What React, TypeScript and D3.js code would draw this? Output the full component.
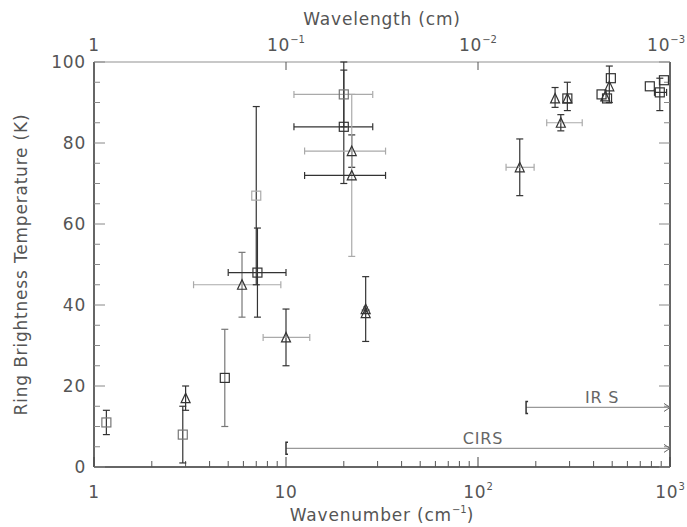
import React from "react";
import * as d3 from "d3";

// measurements: wavenumber (cm^-1), ring brightness temperature (K)
const wavenumber = [1.16, 2.9, 3.0, 4.8, 5.9, 7.0, 7.1, 10, 20, 20, 22, 22, 26, 26, 165, 252, 270, 292, 292, 440, 460, 470, 483, 492, 785, 885, 930];
const temperature = [11, 8, 17, 22, 45, 67, 48, 32, 92, 84, 78, 72, 39, 38, 74, 91, 85, 91, 91, 92, 91.5, 91, 94, 96, 94, 92.5, 95.5];
const tempLow = [8, 1, 14, 10, 37, 45, 37, 25, 84, 70, 74, 52, 31, null, 67, 88.8, 83, 88, null, null, null, null, 90, null, null, 88, null];
const tempHigh = [14, 15, 20, 34, 53, 89, 59, 39, 100, 98, 82, 92, 47, null, 81, 93.7, 87, 95, null, null, null, null, 99, null, null, 96, null];
const waveLow = [null, null, null, null, 3.3, null, 5.0, 7.6, 11, 11, 12.5, 12.5, null, null, 140, null, 228, null, null, null, null, null, null, null, null, 830, null];
const waveHigh = [null, null, null, null, 9.4, null, 10, 13.3, 28.3, 28.3, 33, 33, null, null, 196, null, 349, null, null, null, null, null, null, null, null, 960, null];
const symbol = ["sq", "sq", "tri", "sq", "tri", "sq", "sq", "tri", "sq", "sq", "tri", "tri", "tri", "tri", "tri", "tri", "tri", "sq", "tri", "sq", "tri", "sq", "tri", "sq", "sq", "sq", "sq"];
const markTone = ["mid", "mid", "dark", "dark", "dark", "light", "dark", "dark", "mid", "dark", "dark", "dark", "dark", "dark", "dark", "dark", "dark", "dark", "dark", "dark", "dark", "dark", "dark", "dark", "dark", "dark", "dark"];
const yBarTone = ["dark", "dark", "dark", "mid", "mid", "dark", "dark", "dark", "dark", "dark", "dark", "light", "dark", "dark", "dark", "dark", "dark", "dark", "dark", "dark", "dark", "dark", "dark", "dark", "dark", "dark", "dark"];
const xBarTone = ["dark", "dark", "dark", "dark", "light", "dark", "dark", "light", "light", "dark", "light", "dark", "dark", "dark", "light", "dark", "light", "dark", "dark", "dark", "dark", "dark", "dark", "dark", "dark", "dark", "dark"];

// instrument coverage
const instruments = ["CIRS", "IR S"];
const instStart = [10, 178];
const instEnd = [1000, 1000];
const instLevel = [4.6, 14.7];

const xMajor = [1, 10, 100, 1000];
const bottomBase = ["1", "10", "10", "10"];
const bottomExp = ["", "", "2", "3"];
const topBase = ["1", "10", "10", "10"];
const topExp = ["", "\u22121", "\u22122", "\u22123"];
const yTicks = [0, 20, 40, 60, 80, 100];

const tones: Record<string, string> = { dark: "#333", mid: "#777", light: "#aaa" };
const font = "'DejaVu Sans', sans-serif";
const textColor = "#555";
const spacing = 0.8;

export default function App() {
  const left = 94, right = 670, top = 62, bottom = 467;
  const x = d3.scaleLog().domain([1, 1000]).range([left, right]);
  const y = d3.scaleLinear().domain([0, 100]).range([bottom, top]);

  const minorX: number[] = [];
  for (let d = 1; d < 1000; d *= 10) for (let k = 2; k <= 9; k++) minorX.push(d * k);
  const minorY = d3.range(5, 100, 5).filter((v) => v % 20 !== 0);

  const cap = 3.5;
  const ms = 4.5;

  const marker = (i: number) => {
    const cx = x(wavenumber[i]);
    const cy = y(temperature[i]);
    const stroke = tones[markTone[i]];
    if (symbol[i] === "sq")
      return <rect key={"m" + i} x={cx - ms} y={cy - ms} width={ms * 2} height={ms * 2} fill="none" stroke={stroke} strokeWidth={1.2} />;
    const pts = [[cx, cy - ms - 0.5], [cx - ms, cy + ms], [cx + ms, cy + ms]].map((p) => p.join(",")).join(" ");
    return <polygon key={"m" + i} points={pts} fill="none" stroke={stroke} strokeWidth={1.2} />;
  };

  return (
    <svg width={687} height={527} style={{ position: "absolute", left: 0, top: 0, background: "#fff" }} fontFamily={font} letterSpacing={spacing}>
      {/* frame */}
      <line x1={left} x2={right} y1={top} y2={top} stroke="#c8c8c8" strokeWidth={2} />
      <line x1={left} x2={right} y1={bottom} y2={bottom} stroke="#333" strokeWidth={1.5} />
      <line x1={left} x2={left} y1={top} y2={bottom} stroke="#333" strokeWidth={1.5} />
      <line x1={right} x2={right} y1={top} y2={bottom} stroke="#333" strokeWidth={1.5} />

      {/* bottom ticks */}
      {xMajor.map((v) => (
        <line key={"bx" + v} x1={x(v)} x2={x(v)} y1={bottom} y2={bottom - 10} stroke="#444" />
      ))}
      {minorX.map((v) => (
        <line key={"bm" + v} x1={x(v)} x2={x(v)} y1={bottom} y2={bottom - 6} stroke="#555" />
      ))}
      {/* top ticks */}
      {xMajor.slice(1, 3).map((v) => (
        <line key={"tx" + v} x1={x(v)} x2={x(v)} y1={top} y2={top + 8} stroke="#555" />
      ))}
      {/* y ticks both sides */}
      {yTicks.map((v) => (
        <g key={"yt" + v}>
          <line x1={left} x2={left + 11} y1={y(v)} y2={y(v)} stroke="#888" />
          <line x1={right} x2={right - 11} y1={y(v)} y2={y(v)} stroke="#888" />
        </g>
      ))}
      {minorY.map((v) => (
        <g key={"ym" + v}>
          <line x1={left} x2={left + 6} y1={y(v)} y2={y(v)} stroke="#888" />
          <line x1={right} x2={right - 6} y1={y(v)} y2={y(v)} stroke="#888" />
        </g>
      ))}

      {/* tick labels */}
      {yTicks.map((v) => (
        <text key={"yl" + v} x={left - 8} y={y(v) + 6} textAnchor="end" fontSize={17} fill={textColor}>{v}</text>
      ))}
      {xMajor.map((v, i) => (
        <text key={"bl" + v} x={x(v)} y={498} textAnchor="middle" fontSize={17} fill={textColor}>
          {bottomBase[i]}
          {bottomExp[i] && <tspan fontSize={10} dy={-8} letterSpacing={0}>{bottomExp[i]}</tspan>}
        </text>
      ))}
      {xMajor.map((v, i) => (
        <text key={"tl" + v} x={i === 3 ? 685 : x(v)} y={51} textAnchor={i === 3 ? "end" : "middle"} fontSize={17} fill={textColor}>
          {topBase[i]}
          {topExp[i] && <tspan fontSize={10} dy={-8} letterSpacing={0}>{topExp[i]}</tspan>}
        </text>
      ))}

      {/* axis titles */}
      <text x={(left + right) / 2} y={521} textAnchor="middle" fontSize={17} fill={textColor}>
        Wavenumber (cm<tspan fontSize={10} dy={-8} letterSpacing={0}>{"\u22121"}</tspan><tspan dy={8}>)</tspan>
      </text>
      <text x={(left + right) / 2} y={25} textAnchor="middle" fontSize={17} fill={textColor}>Wavelength (cm)</text>
      <text transform={`translate(27,${(top + bottom) / 2}) rotate(-90)`} textAnchor="middle" fontSize={17} fill={textColor}>
        Ring Brightness Temperature (K)
      </text>

      {/* instrument ranges */}
      {instruments.map((name, i) => {
        const x0 = x(instStart[i]);
        const x1 = x(instEnd[i]);
        const yy = y(instLevel[i]);
        return (
          <g key={name}>
            <line x1={x0} x2={x1} y1={yy} y2={yy} stroke="#999" strokeWidth={1.2} />
            <path d={`M${x0 + 2},${yy - 6}H${x0}V${yy + 6}H${x0 + 2}`} fill="none" stroke="#333" strokeWidth={1.5} />
            <path d={`M${x1 - 6},${yy - 4}L${x1},${yy}L${x1 - 6},${yy + 4}`} fill="none" stroke="#666" />
            <text x={(x0 + x1) / 2 + (i === 1 ? 4 : 5)} y={yy - 4} textAnchor="middle" fontSize={16} fill="#666">{name}</text>
          </g>
        );
      })}

      {/* error bars */}
      {wavenumber.map((w, i) => {
        const cx = x(w);
        const cy = y(temperature[i]);
        const lo = tempLow[i];
        const hi = tempHigh[i];
        const wl = waveLow[i];
        const wh = waveHigh[i];
        return (
          <g key={"e" + i}>
            {lo != null && hi != null && (
              <g stroke={tones[yBarTone[i]]} strokeWidth={1.2}>
                <line x1={cx} x2={cx} y1={y(Math.min(hi, 100))} y2={y(lo)} />
                <line x1={cx - cap} x2={cx + cap} y1={y(hi)} y2={y(hi)} />
                <line x1={cx - cap} x2={cx + cap} y1={y(lo)} y2={y(lo)} />
              </g>
            )}
            {wl != null && wh != null && (
              <g stroke={tones[xBarTone[i]]} strokeWidth={1.2}>
                <line x1={x(wl)} x2={Math.min(x(wh), right)} y1={cy} y2={cy} />
                <line x1={x(wl)} x2={x(wl)} y1={cy - cap} y2={cy + cap} />
                {x(wh) < right && <line x1={x(wh)} x2={x(wh)} y1={cy - cap} y2={cy + cap} />}
              </g>
            )}
          </g>
        );
      })}

      {/* markers */}
      {wavenumber.map((_, i) => marker(i))}
      {/* asterisk over overlapping triangles */}
      <g stroke="#333" strokeWidth={1}>
        {[0, 60, 120].map((a) => {
          const cx = x(wavenumber[12]);
          const cy = y(temperature[12]) + 1;
          const r = 4;
          const t = (a * Math.PI) / 180;
          return <line key={"a" + a} x1={cx - r * Math.cos(t)} x2={cx + r * Math.cos(t)} y1={cy - r * Math.sin(t)} y2={cy + r * Math.sin(t)} />;
        })}
      </g>
    </svg>
  );
}
